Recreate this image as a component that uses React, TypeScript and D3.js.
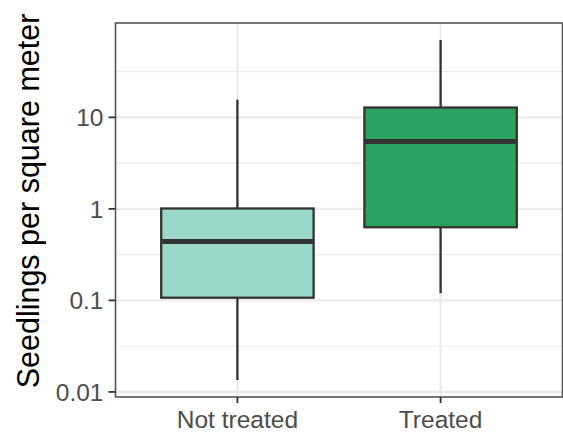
import React from "react";
import * as d3 from "d3";

const categories = ["Not treated", "Treated"];
const lowerWhisker = [0.0135, 0.12];
const q1 = [0.107, 0.63];
const median = [0.44, 5.45];
const q3 = [1.01, 12.8];
const upperWhisker = [15.6, 70];
const fills = ["#99D8C9", "#2CA25F"];
const yTicks = [0.01, 0.1, 1, 10];
const yTickLabels = ["0.01", "0.1", "1", "10"];
const yMinor = [0.0316, 0.316, 3.16, 31.6];
const yTitle = "Seedlings per square meter";

const W = 563;
const H = 432;
const panel = { left: 115.5, right: 562.5, top: 23, bottom: 397 };
const FONT = "'Liberation Sans', Arial, Helvetica, sans-serif";

export default function App() {
  const lo = Math.log10(d3.min(lowerWhisker) as number);
  const hi = Math.log10(d3.max(upperWhisker) as number);
  const pad = (hi - lo) * 0.05;
  const y = d3
    .scaleLog()
    .domain([Math.pow(10, lo - pad), Math.pow(10, hi + pad)])
    .range([panel.bottom, panel.top]);
  const x = d3
    .scalePoint<string>()
    .domain(categories)
    .range([panel.left, panel.right])
    .padding(0.6);
  const step = x.step();
  const boxW = step * 0.75;

  return (
    <svg
      width={W}
      height={H}
      style={{ position: "absolute", left: 0, top: 0, background: "#fff" }}
      fontFamily={FONT}
    >
      <rect x={0} y={0} width={W} height={H} fill="#fff" />
      {/* minor grid */}
      {yMinor.map((v, i) => (
        <line
          key={"mn" + i}
          x1={panel.left}
          x2={panel.right}
          y1={y(v)}
          y2={y(v)}
          stroke="#EBEBEB"
          strokeWidth={1.1}
        />
      ))}
      {/* major grid */}
      {yTicks.map((v, i) => (
        <line
          key={"mj" + i}
          x1={panel.left}
          x2={panel.right}
          y1={y(v)}
          y2={y(v)}
          stroke="#EBEBEB"
          strokeWidth={2.2}
        />
      ))}
      {categories.map((c) => (
        <line
          key={"vx" + c}
          x1={x(c)}
          x2={x(c)}
          y1={panel.top}
          y2={panel.bottom}
          stroke="#EBEBEB"
          strokeWidth={2.2}
        />
      ))}
      {/* boxes */}
      {categories.map((c, i) => {
        const cx = x(c) as number;
        return (
          <g key={"b" + c}>
            <line
              x1={cx}
              x2={cx}
              y1={y(upperWhisker[i])}
              y2={y(q3[i])}
              stroke="#333333"
              strokeWidth={2.3}
            />
            <line
              x1={cx}
              x2={cx}
              y1={y(q1[i])}
              y2={y(lowerWhisker[i])}
              stroke="#333333"
              strokeWidth={2.3}
            />
            <rect
              x={cx - boxW / 2}
              y={y(q3[i])}
              width={boxW}
              height={y(q1[i]) - y(q3[i])}
              fill={fills[i]}
              stroke="#333333"
              strokeWidth={2.3}
            />
            <line
              x1={cx - boxW / 2}
              x2={cx + boxW / 2}
              y1={y(median[i])}
              y2={y(median[i])}
              stroke="#333333"
              strokeWidth={5}
            />
          </g>
        );
      })}
      {/* panel border */}
      <rect
        x={panel.left}
        y={panel.top}
        width={panel.right - panel.left}
        height={panel.bottom - panel.top}
        fill="none"
        stroke="#555555"
        strokeWidth={1.6}
      />
      {/* y axis */}
      {yTicks.map((v, i) => (
        <g key={"yt" + i}>
          <line
            x1={panel.left - 7}
            x2={panel.left}
            y1={y(v)}
            y2={y(v)}
            stroke="#333333"
            strokeWidth={1.8}
          />
          <text
            x={panel.left - 12}
            y={y(v)}
            dy="0.36em"
            textAnchor="end"
            fontSize={24.5}
            fill="#4D4D4D"
          >
            {yTickLabels[i]}
          </text>
        </g>
      ))}
      {/* x axis */}
      {categories.map((c) => (
        <g key={"xt" + c}>
          <line
            x1={x(c)}
            x2={x(c)}
            y1={panel.bottom}
            y2={panel.bottom + 6}
            stroke="#333333"
            strokeWidth={1.8}
          />
          <text
            x={x(c)}
            y={428}
            textAnchor="middle"
            fontSize={24.5}
            fill="#4D4D4D"
          >
            {c}
          </text>
        </g>
      ))}
      <text
        transform={`translate(38.5, 201) rotate(-90)`}
        textAnchor="middle"
        fontSize={30.5}
        fill="#000"
      >
        {yTitle}
      </text>
    </svg>
  );
}
